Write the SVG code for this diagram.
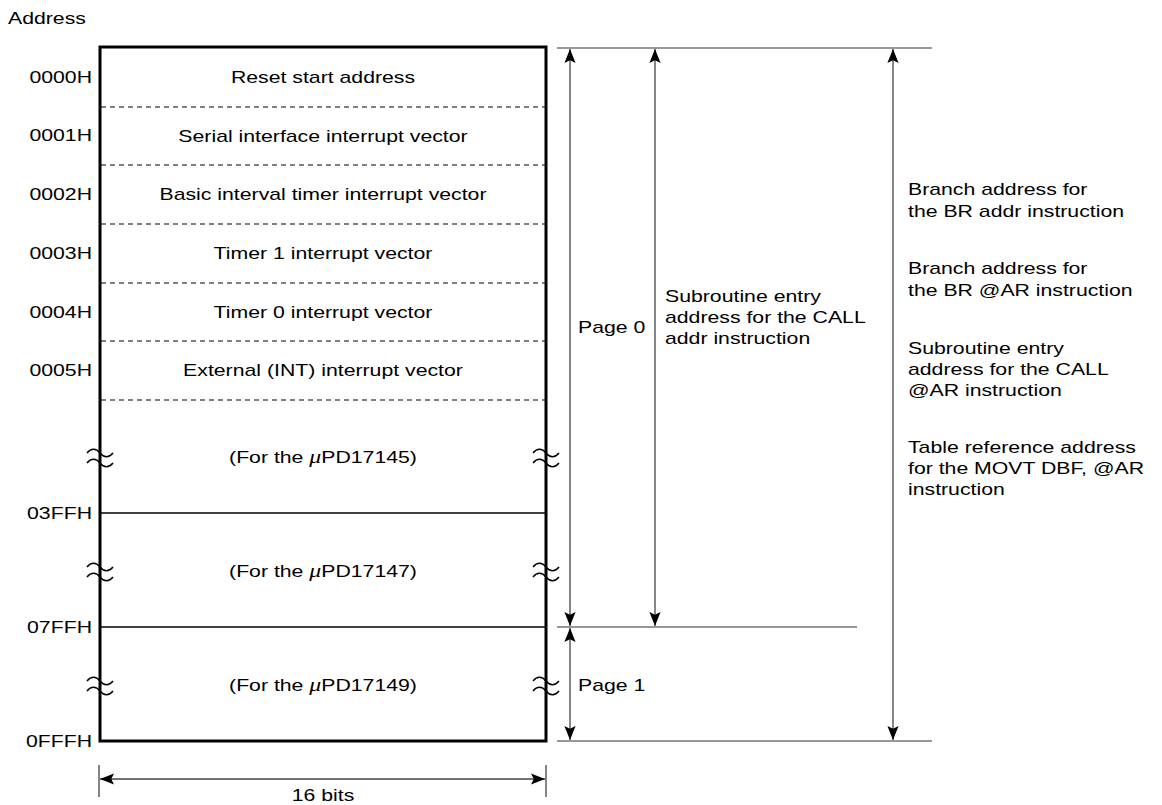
<svg xmlns="http://www.w3.org/2000/svg" width="1162" height="805" viewBox="0 0 1162 805">
<defs>
<style>
text{font-family:"Liberation Sans",Arial,sans-serif;font-size:17px;fill:#000}
.c{text-anchor:middle}
.r{text-anchor:end}
.mu{font-family:"Liberation Serif","Times New Roman",serif;font-style:italic;font-size:19px}
.dash{stroke:#000;stroke-width:1.2;stroke-dasharray:5,4;fill:none}
.solid{stroke:#000;stroke-width:1.5;fill:none}
.thin{stroke:#333;stroke-width:1.2;fill:none}
.arr{stroke:#444;stroke-width:1.3;fill:none;marker-start:url(#ah);marker-end:url(#ah)}
.brk{stroke:#000;stroke-width:1.5;fill:none}
</style>
<marker id="ah" viewBox="0 0 10 10" refX="10" refY="5" markerWidth="14" markerHeight="14" markerUnits="userSpaceOnUse" orient="auto-start-reverse">
<path d="M0,1 L10,5 L0,9 L2,5 Z" fill="#000"/>
</marker>
<path id="br" d="M-13,-4 c4,-5 9,-5 13,0 s9,5 13,0 M-13,6 c4,-5 9,-5 13,0 s9,5 13,0"/>
</defs>
<g transform="scale(1.25,1)">
<text x="6.4" y="24">Address</text>
</g>
<g id="memory">
<rect x="100" y="47" width="446" height="694" fill="none" stroke="#000" stroke-width="3"/>
<line class="dash" x1="101" y1="107" x2="545" y2="107"/>
<line class="dash" x1="101" y1="165" x2="545" y2="165"/>
<line class="dash" x1="101" y1="224" x2="545" y2="224"/>
<line class="dash" x1="101" y1="283" x2="545" y2="283"/>
<line class="dash" x1="101" y1="341" x2="545" y2="341"/>
<line class="dash" x1="101" y1="400" x2="545" y2="400"/>
<line class="solid" x1="100" y1="513" x2="546" y2="513"/>
<line class="solid" x1="100" y1="627" x2="546" y2="627"/>
<use href="#br" x="100" y="457" class="brk"/>
<use href="#br" x="546" y="457" class="brk"/>
<use href="#br" x="100" y="571" class="brk"/>
<use href="#br" x="546" y="571" class="brk"/>
<use href="#br" x="100" y="685" class="brk"/>
<use href="#br" x="546" y="685" class="brk"/>
<g transform="scale(1.25,1)">
<text class="c" x="258.4" y="83">Reset start address</text>
<text class="c" x="258.4" y="142">Serial interface interrupt vector</text>
<text class="c" x="258.4" y="200">Basic interval timer interrupt vector</text>
<text class="c" x="258.4" y="259">Timer 1 interrupt vector</text>
<text class="c" x="258.4" y="318">Timer 0 interrupt vector</text>
<text class="c" x="258.4" y="376">External (INT) interrupt vector</text>
<text class="c" x="258.4" y="463">(For the  <tspan class="mu">μ</tspan>PD17145)</text>
<text class="c" x="258.4" y="577">(For the  <tspan class="mu">μ</tspan>PD17147)</text>
<text class="c" x="258.4" y="691">(For the  <tspan class="mu">μ</tspan>PD17149)</text>
</g>
</g>
<g id="addresses" transform="scale(1.25,1)">
<text class="r" x="73.6" y="83">0000H</text>
<text class="r" x="73.6" y="141">0001H</text>
<text class="r" x="73.6" y="200">0002H</text>
<text class="r" x="73.6" y="259">0003H</text>
<text class="r" x="73.6" y="318">0004H</text>
<text class="r" x="73.6" y="376">0005H</text>
<text class="r" x="73.6" y="519">03FFH</text>
<text class="r" x="73.6" y="633">07FFH</text>
<text class="r" x="73.6" y="747">0FFFH</text>
</g>
<g id="connectors">
<line class="thin" x1="557" y1="48" x2="932" y2="48"/>
<line class="thin" x1="557" y1="627" x2="857" y2="627"/>
<line class="thin" x1="557" y1="741" x2="932" y2="741"/>
<line class="arr" x1="570" y1="49" x2="570" y2="626"/>
<line class="arr" x1="655" y1="49" x2="655" y2="626"/>
<line class="arr" x1="893" y1="49" x2="893" y2="740"/>
<line class="arr" x1="570" y1="628" x2="570" y2="740"/>
<line class="thin" x1="99" y1="765" x2="99" y2="797"/>
<line class="thin" x1="546" y1="765" x2="546" y2="797"/>
<line class="arr" x1="100" y1="779" x2="545" y2="779"/>
</g>
<g id="labels" transform="scale(1.25,1)">
<text x="462.4" y="333">Page 0</text>
<text x="462.4" y="691">Page 1</text>
<text x="532" y="302">Subroutine entry</text>
<text x="532" y="323">address for the CALL</text>
<text x="532" y="344">addr instruction</text>
<text x="726.4" y="195">Branch address for</text>
<text x="726.4" y="217">the BR addr instruction</text>
<text x="726.4" y="274">Branch address for</text>
<text x="726.4" y="296">the BR @AR instruction</text>
<text x="726.4" y="354">Subroutine entry</text>
<text x="726.4" y="375">address for the CALL</text>
<text x="726.4" y="396">@AR instruction</text>
<text x="726.4" y="453">Table reference address</text>
<text x="726.4" y="474">for the MOVT DBF, @AR</text>
<text x="726.4" y="495">instruction</text>
<text class="c" x="258.4" y="801">16 bits</text>
</g>
</svg>
